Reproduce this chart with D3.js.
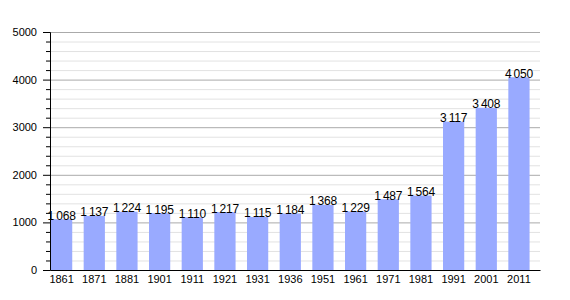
<!DOCTYPE html>
<html>
<head>
<meta charset="utf-8">
<script src="https://cdn.jsdelivr.net/npm/d3@7"></script>
<style>
  body { margin: 0; background: #fff; }
  text { font-family: "Liberation Sans", Arial, sans-serif; fill: #000; }
</style>
</head>
<body>
<div id="chart"></div>
<script>
const years = ["1861", "1871", "1881", "1901", "1911", "1921", "1931", "1936", "1951", "1961", "1971", "1981", "1991", "2001", "2011"];
const population = [1068, 1137, 1224, 1195, 1110, 1217, 1115, 1184, 1368, 1229, 1487, 1564, 3117, 3408, 4050];
const yTicks = [0, 1000, 2000, 3000, 4000, 5000];

const width = 570, height = 300;
const margin = { top: 32, right: 30, bottom: 30, left: 50 };

const svg = d3.select("#chart").append("svg")
  .attr("width", width)
  .attr("height", height);

const x = d3.scaleBand()
  .domain(years)
  .range([margin.left, width - margin.right])
  .paddingInner(0)
  .paddingOuter(0);

const y = d3.scaleLinear()
  .domain([0, 5000])
  .range([height - margin.bottom, margin.top]);

const barW = x.bandwidth() * 0.65;

// minor grid
const minor = d3.range(0, 5001, 200).filter(v => v % 1000 !== 0);
svg.append("g").selectAll("line")
  .data(minor)
  .join("line")
  .attr("x1", margin.left).attr("x2", width - margin.right)
  .attr("y1", d => y(d) + 0.5).attr("y2", d => y(d) + 0.5)
  .attr("stroke", "#e2e2e2");

// major grid
svg.append("g").selectAll("line")
  .data(yTicks.filter(v => v > 0))
  .join("line")
  .attr("x1", margin.left).attr("x2", width - margin.right)
  .attr("y1", d => y(d) + 0.5).attr("y2", d => y(d) + 0.5)
  .attr("stroke", "#aaaaaa");

// bars
svg.append("g").selectAll("rect")
  .data(population)
  .join("rect")
  .attr("x", (d, i) => x(years[i]) + 1)
  .attr("y", d => y(d))
  .attr("width", barW)
  .attr("height", d => y(0) - y(d))
  .attr("fill", "#99aaff");

// value labels
const fmt = v => d3.format(",")(v).replace(",", "\u2009");
svg.append("g").selectAll("text")
  .data(population)
  .join("text")
  .attr("x", (d, i) => x(years[i]) + 1 + barW / 2)
  .attr("y", d => y(d) + 0.5)
  .attr("text-anchor", "middle")
  .attr("font-size", 12)
  .attr("letter-spacing", -0.2)
  .text(fmt);

// y axis with minor ticks
const yAxis = d3.axisLeft(y).tickValues(yTicks).tickSize(7).tickPadding(6).tickFormat(d3.format("d"));
const ga = svg.append("g")
  .attr("transform", `translate(${margin.left},0)`)
  .call(yAxis);
ga.select(".domain").attr("stroke", "#000");
ga.selectAll("text").attr("font-size", 11).attr("font-family", "Liberation Sans, Arial, sans-serif");

svg.append("g").selectAll("line")
  .data(minor)
  .join("line")
  .attr("x1", margin.left - 4).attr("x2", margin.left)
  .attr("y1", d => y(d) + 0.5).attr("y2", d => y(d) + 0.5)
  .attr("stroke", "#000");

// x axis
const xAxis = d3.axisBottom(x).tickSize(0).tickPadding(5);
const gx = svg.append("g")
  .attr("transform", `translate(0,${height - margin.bottom})`)
  .call(xAxis);
gx.selectAll(".tick").attr("transform", d => `translate(${x(d) + 1 + barW / 2},0)`);
gx.select(".domain").attr("stroke", "#000");
gx.selectAll("text").attr("font-size", 11).attr("font-family", "Liberation Sans, Arial, sans-serif");
</script>
</body>
</html>
